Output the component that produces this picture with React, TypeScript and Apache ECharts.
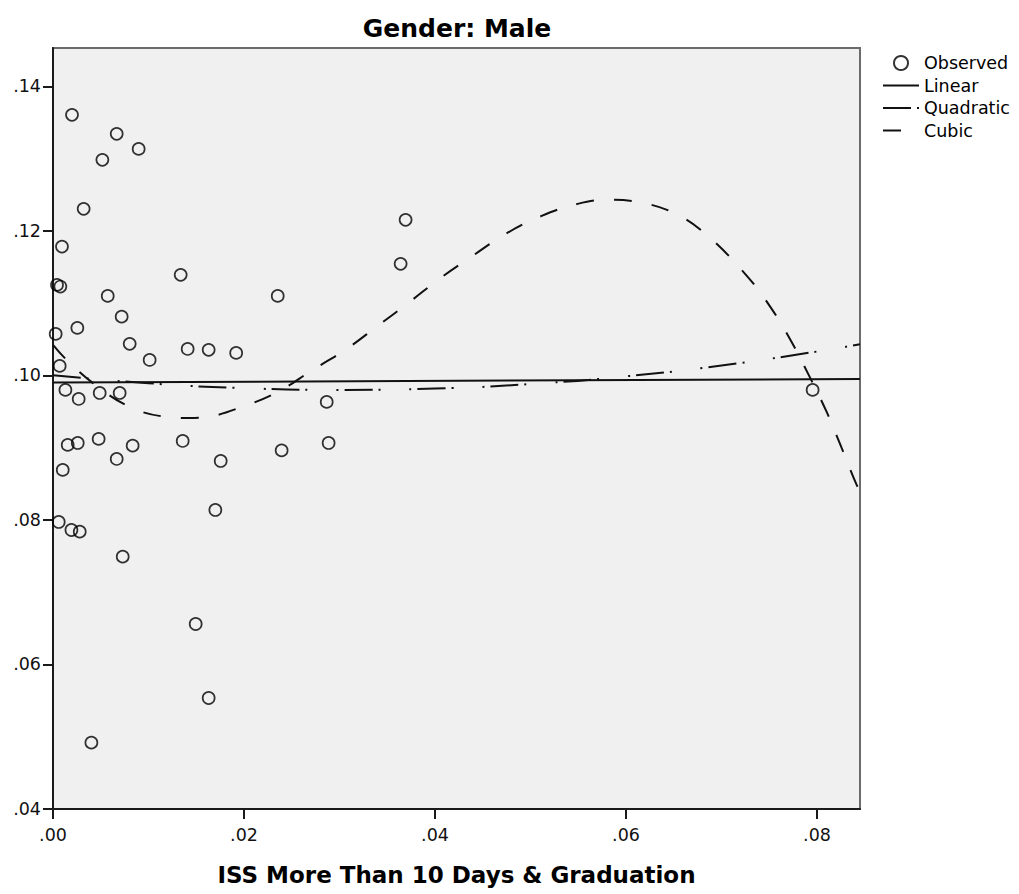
import React, { useEffect, useRef } from "react";
import * as echarts from "echarts";

// Observed points
const obsX = [
  0.00199, 0.00667, 0.00897, 0.00517, 0.00321, 0.00094, 0.00042, 0.00077, 0.00573, 0.00719,
  0.00255, 0.00028, 0.00803, 0.01012, 0.0007, 0.0013, 0.00269, 0.00489, 0.00698, 0.00154,
  0.00259, 0.00478, 0.00834, 0.00667, 0.00102, 0.0006, 0.00193, 0.0028, 0.0073, 0.00402,
  0.01337, 0.0141, 0.0163, 0.01918, 0.02353, 0.01358, 0.01756, 0.02394, 0.017, 0.01494,
  0.0163, 0.02866, 0.02886, 0.0364, 0.03692, 0.07954,
];
const obsY = [
  0.13605, 0.13342, 0.13134, 0.12982, 0.12304, 0.11782, 0.11252, 0.11229, 0.111, 0.10813,
  0.10657, 0.10574, 0.10436, 0.10214, 0.10131, 0.09799, 0.09674, 0.09757, 0.09757, 0.09038,
  0.09065, 0.09121, 0.09028, 0.08844, 0.08692, 0.07972, 0.07861, 0.07838, 0.07492, 0.04918,
  0.11391, 0.10366, 0.10353, 0.10311, 0.111, 0.09093, 0.08816, 0.08962, 0.08138, 0.0656,
  0.05536, 0.09633, 0.09065, 0.11543, 0.12152, 0.09799,
];

// Fitted curves
const linearX = [0, 0.0845];
const linearY = [0.099, 0.0995];

const quadX = [0, 0.01, 0.02, 0.03, 0.04, 0.05, 0.06, 0.07, 0.08, 0.0845];
const quadY = [0.10002, 0.09891, 0.09823, 0.09799, 0.09818, 0.09881, 0.09987, 0.10137, 0.1033, 0.10431];

const cubicX = [
  0, 0.00143, 0.00416, 0.00803, 0.01191, 0.0141, 0.01609, 0.02007, 0.02353, 0.02719,
  0.03075, 0.034, 0.03735, 0.04059, 0.04394, 0.0474, 0.05117, 0.05494, 0.05808, 0.06111,
  0.06499, 0.06844, 0.07274, 0.07525, 0.07734, 0.07923, 0.08101, 0.08258, 0.08415, 0.08446,
];
const cubicY = [
  0.10422, 0.10214, 0.09896, 0.09564, 0.09425, 0.09411, 0.09425, 0.09578, 0.09771, 0.10076,
  0.10366, 0.10685, 0.11017, 0.11349, 0.11654, 0.11958, 0.12207, 0.12373, 0.12429, 0.12401,
  0.12249, 0.11944, 0.11363, 0.1092, 0.10463, 0.09979, 0.09494, 0.08996, 0.08484, 0.08415,
];

// Tick values
const xTicks = [0, 0.02, 0.04, 0.06, 0.08];
const yTicks = [0.04, 0.06, 0.08, 0.1, 0.12, 0.14];

const legendNames = ["Observed", "Linear", "Quadratic", "Cubic"];
const titleText = "Gender: Male";
const xTitle = "ISS More Than 10 Days & Graduation";

const zip = (xs: number[], ys: number[]) => xs.map((x, i) => [x, ys[i]]);
const fmt = (v: number) => v.toFixed(2).replace(/^0/, "");

const FONT = '"DejaVu Sans", sans-serif';

export default function App() {
  const ref = useRef<HTMLDivElement>(null);
  useEffect(() => {
    if (!ref.current) return;
    const chart = echarts.init(ref.current, undefined, { renderer: "svg" });
    const axisLine = { show: true, onZero: false, lineStyle: { color: "#1a1a1a", width: 2 } };
    const tickStyle = { color: "#1a1a1a", width: 2 };
    const hiddenSymbol = { color: "rgba(0,0,0,0)", borderWidth: 0, opacity: 0 };
    chart.setOption({
      animation: false,
      backgroundColor: "#ffffff",
      textStyle: { fontFamily: FONT },
      grid: {
        left: 53,
        top: 48,
        right: 159,
        bottom: 85,
        show: true,
        backgroundColor: "#f0f0f0",
        borderColor: "#6b6b6b",
        borderWidth: 2,
      },
      graphic: [
        {
          type: "text",
          x: 457,
          y: 16,
          style: {
            text: titleText,
            font: `bold 25px ${FONT}`,
            fill: "#000",
            align: "center",
          },
        },
      ],
      legend: {
        orient: "vertical",
        left: 877,
        top: 49,
        itemWidth: 36,
        itemHeight: 14,
        itemGap: 4.5,
        data: [
          { name: legendNames[0] },
          { name: legendNames[1], itemStyle: hiddenSymbol },
          { name: legendNames[2], itemStyle: hiddenSymbol },
          { name: legendNames[3], itemStyle: hiddenSymbol },
        ],
        textStyle: { fontSize: 17.5, color: "#000", fontFamily: FONT },
      },
      xAxis: {
        type: "value",
        min: 0,
        max: 0.0845,
        interval: 0.02,
        axisLine,
        axisTick: { show: true, length: 10, lineStyle: tickStyle, customValues: xTicks },
        splitLine: { show: false },
        axisLabel: {
          formatter: fmt,
          fontSize: 17.5,
          color: "#111",
          margin: 17,
          fontFamily: FONT,
          customValues: xTicks,
        },
        name: xTitle,
        nameLocation: "middle",
        nameGap: 54,
        nameTextStyle: { fontSize: 23, fontWeight: "bold", color: "#000", fontFamily: FONT },
      },
      yAxis: {
        type: "value",
        min: 0.04,
        max: 0.1453,
        interval: 0.02,
        axisLine,
        axisTick: { show: true, length: 10, lineStyle: tickStyle, customValues: yTicks },
        splitLine: { show: false },
        axisLabel: {
          formatter: fmt,
          fontSize: 17.5,
          color: "#111",
          margin: 12,
          fontFamily: FONT,
          customValues: yTicks,
        },
      },
      series: [
        {
          name: legendNames[0],
          type: "scatter",
          data: zip(obsX, obsY),
          symbol: "circle",
          symbolSize: 12,
          itemStyle: { color: "rgba(0,0,0,0)", borderColor: "#000", borderWidth: 1.7 },
          z: 5,
        },
        {
          name: legendNames[1],
          type: "line",
          data: zip(linearX, linearY),
          symbol: "none",
          color: "#111",
          lineStyle: { color: "#111", width: 2, type: "solid" },
        },
        {
          name: legendNames[2],
          type: "line",
          data: zip(quadX, quadY),
          symbol: "none",
          smooth: true,
          color: "#111",
          lineStyle: { color: "#111", width: 2, type: [28, 6, 2, 29, 2, 6] },
        },
        {
          name: legendNames[3],
          type: "line",
          data: zip(cubicX, cubicY),
          symbol: "none",
          smooth: 0.4,
          color: "#111",
          lineStyle: { color: "#111", width: 2, type: [18, 20] },
        },
      ],
    });
    return () => chart.dispose();
  }, []);
  return (
    <div
      ref={ref}
      style={{ position: "fixed", left: 0, top: 0, width: 1019, height: 894, background: "#fff" }}
    />
  );
}
